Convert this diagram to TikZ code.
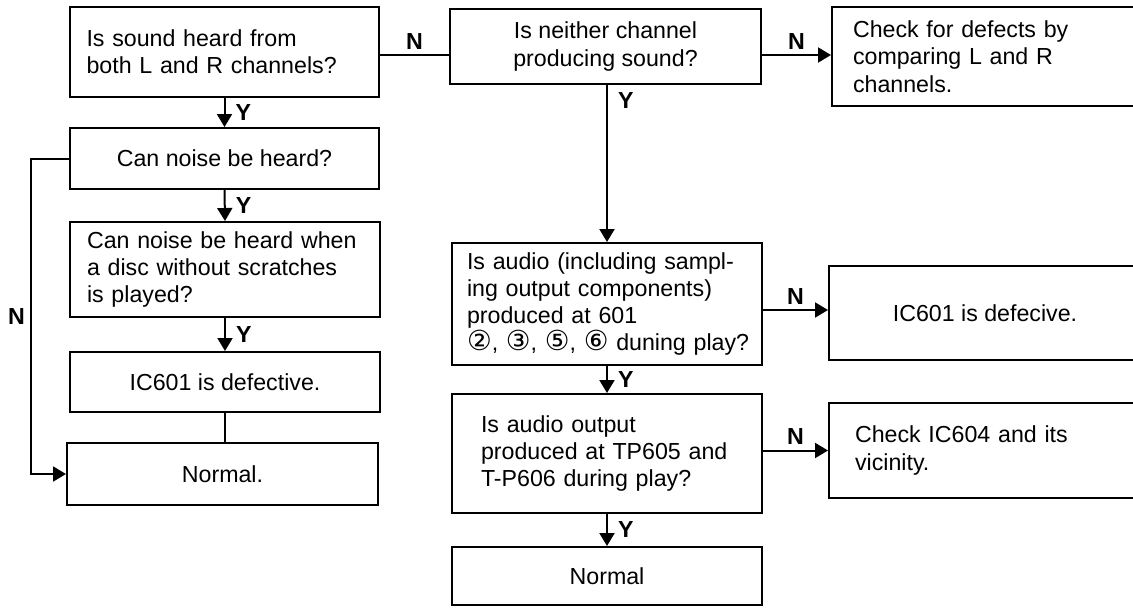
\documentclass[tikz,border=0pt]{standalone}
\usepackage{fontspec}
\setmainfont{Liberation Sans}
\newfontfamily\circfont{DejaVu Sans}
\usetikzlibrary{arrows.meta, positioning, calc}
\newcommand{\circnum}[1]{{\circfont\fontsize{13.8}{13.6}\selectfont #1}}
\tikzset{
  arrowK/.style={-{Triangle[length=6.5pt, width=7.5pt]}, black, line width=1pt},
  lineK/.style={black, line width=1pt},
  boxL/.style={rectangle, draw=black, line width=1pt, fill=white,
               align=left, inner sep=0pt},
  boxC/.style={rectangle, draw=black, line width=1pt, fill=white,
               align=center, inner sep=0pt},
  lblY/.style={right, xshift=2pt, font=\fontsize{11.6}{13.6}\selectfont\bfseries, inner sep=3pt},
  lblN/.style={font=\fontsize{11.6}{13.6}\selectfont\bfseries, inner sep=2.5pt},
}

\begin{document}
\begin{tikzpicture}[x=0.5pt, y=-0.5pt, font=\fontsize{11.6}{13.6}\selectfont]
  \useasboundingbox (0,0) rectangle (1133,607);
  \clip (0,0) rectangle (1133,607);
  % left column
  \node[boxL, minimum width=154.5pt, minimum height=45pt, text width=138pt]
    (sound) at (224.5,52) {Is sound heard from\\both L and R channels?};
  \node[boxC, minimum width=154.5pt, minimum height=30.5pt]
    (noise) at (224.5,158.5) {Can noise be heard?};
  \node[boxL, minimum width=155pt, minimum height=47.5pt, text width=138pt]
    (disc) at (225,269.5) {Can noise be heard when\\a disc without scratches\\is played?};
  \node[boxC, minimum width=155pt, minimum height=30pt]
    (defL) at (225,382) {IC601 is defective.};
  \node[boxC, minimum width=155.5pt, minimum height=31pt]
    (normL) at (222.5,474) {Normal.};
  % middle column
  \node[boxC, minimum width=155.5pt, minimum height=37.5pt]
    (neither) at (605.5,46.5) {Is neither channel\\producing sound?};
  \node[boxL, minimum width=155pt, minimum height=61pt, text width=140pt]
    (audio) at (607,304) {Is audio (including sampl-\\ing output components)\\produced at 601\\\mbox{\circnum{②}, \circnum{③}, \circnum{⑤}, \circnum{⑥} duning play?}};
  \node[boxL, minimum width=155pt, minimum height=59.5pt, text width=126pt]
    (tp) at (607,453.5) {Is audio output\\produced at TP605 and\\T-P606 during play?};
  \node[boxC, minimum width=155pt, minimum height=29pt]
    (normR) at (607,576) {Normal};
  % right column
  \node[boxL, minimum width=154.5pt, minimum height=49.5pt, text width=133.5pt]
    (compare) at (986.5,56.5) {Check for defects by\\comparing L and R\\channels.};
  \node[boxC, minimum width=156pt, minimum height=47pt]
    (defR) at (985,313) {IC601 is defecive.};
  \node[boxL, minimum width=156pt, minimum height=47.5pt, text width=130pt]
    (vic) at (985,450.5) {Check IC604 and its\\vicinity.};

  % connectors
  \draw[arrowK] (sound.south) -- node[lblY] {Y} (noise.north);
  \draw[arrowK] (noise.south) -- node[lblY] {Y} (disc.north);
  \draw[arrowK] (disc.south) -- node[lblY] {Y} (defL.north);
  \draw[lineK] (defL.south) -- (defL.south |- normL.north);
  \draw[arrowK] (noise.west) -- ++(-19pt,0) |- node[lblN, pos=0.25, left] {N} (normL.west);
  \coordinate (nrow) at ([yshift=-1.5pt]sound.east);
  \draw[lineK] (nrow) -- node[lblN, above] {N} (nrow -| neither.west);
  \draw[arrowK] (nrow -| neither.east) -- node[lblN, above] {N} (nrow -| compare.west);
  \draw[arrowK] (neither.south -| audio.north) -- node[lblY, pos=0.1] {Y} (audio.north);
  \draw[arrowK] ([yshift=-3pt]audio.east) -- node[lblN, above] {N} ([yshift=-3pt]audio.east -| defR.west);
  \draw[arrowK] (audio.south) -- node[lblY] {Y} (tp.north);
  \draw[arrowK] (vic.west -| tp.east) -- node[lblN, above] {N} (vic.west);
  \draw[arrowK] (tp.south) -- node[lblY] {Y} (normR.north);
\end{tikzpicture}
\end{document}
